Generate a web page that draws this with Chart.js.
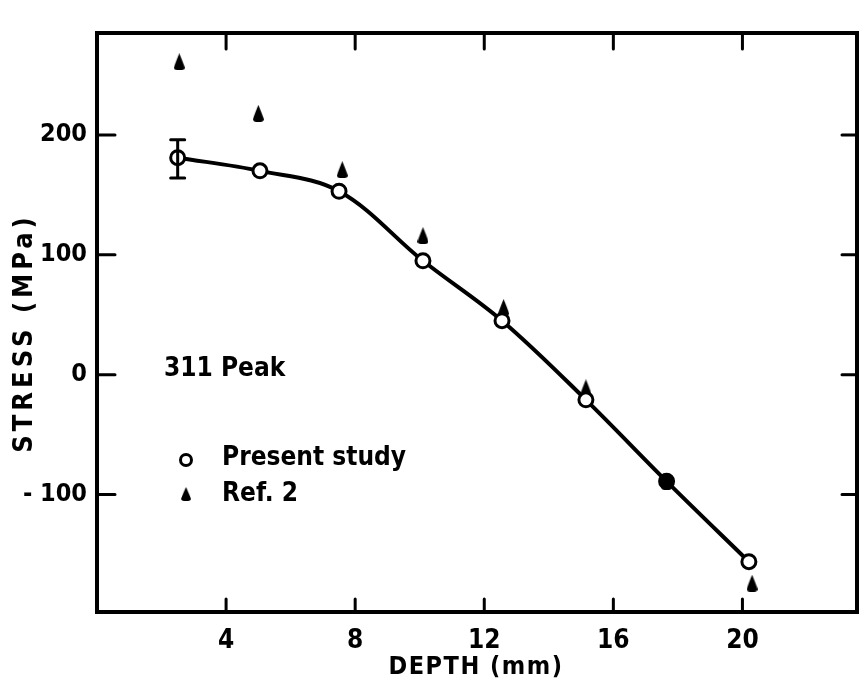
<!DOCTYPE html>
<html>
<head>
<meta charset="utf-8">
<script src="https://cdn.jsdelivr.net/npm/chart.js@4.4.1/dist/chart.umd.min.js"></script>
<style>
  html, body { margin: 0; padding: 0; background: #fff; }
  #wrap { width: 867px; height: 684px; }
</style>
</head>
<body>
<div id="wrap"><canvas id="stressChart"></canvas></div>
<script>
// data
const depthPresent = [2.5, 5.05, 7.5, 10.1, 12.55, 15.15, 17.65, 20.2];
const stressPresent = [181, 170, 153, 95, 45, -21, -89, -156];
const errUpper = [196, null, null, null, null, null, null, null];
const errLower = [164, null, null, null, null, null, null, null];
const depthRef = [2.55, 5.0, 7.6, 10.1, 12.6, 15.15, 17.65, 20.3];
const stressRef = [261, 218, 171, 116, 56, -11, -89, -174];
const xTicks = [4, 8, 12, 16, 20];
const yTicks = [-100, 0, 100, 200];

const FONT = "'DejaVu Sans Condensed', 'Liberation Sans Narrow', sans-serif";

// tall, slightly rounded triangle like the hand-drawn markers
function makeTriangle(w, h) {
    const c = document.createElement('canvas');
    c.width = w; c.height = h;
    const g = c.getContext('2d');
    g.fillStyle = '#000';
    g.beginPath();
    g.moveTo(w / 2, 0);
    g.quadraticCurveTo(w * 0.85, h * 0.55, w, h * 0.85);
    g.quadraticCurveTo(w, h, w / 2, h);
    g.quadraticCurveTo(0, h, 0, h * 0.85);
    g.quadraticCurveTo(w * 0.15, h * 0.55, w / 2, 0);
    g.fill();
    return c;
}
const triMarker = makeTriangle(11, 17);

// frame + inward ticks on all four sides, error bar, axis titles, text legend
const decorations = {
    id: 'decorations',
    afterDatasetsDraw(chart) {
        const { ctx, chartArea: a, scales: { x, y } } = chart;
        ctx.save();
        ctx.strokeStyle = '#000';
        ctx.fillStyle = '#000';
        ctx.lineCap = 'round';

        // error bar on the first point
        ctx.lineWidth = 3;
        depthPresent.forEach((d, i) => {
            if (errUpper[i] == null) return;
            const px = x.getPixelForValue(d);
            const y1 = y.getPixelForValue(errUpper[i]);
            const y2 = y.getPixelForValue(errLower[i]);
            ctx.beginPath();
            ctx.moveTo(px, y1); ctx.lineTo(px, y2);
            ctx.moveTo(px - 7, y1); ctx.lineTo(px + 7, y1);
            ctx.moveTo(px - 7, y2); ctx.lineTo(px + 7, y2);
            ctx.stroke();
        });

        // ticks
        xTicks.forEach(v => {
            const px = x.getPixelForValue(v);
            ctx.beginPath();
            ctx.moveTo(px, a.bottom); ctx.lineTo(px, a.bottom - 13);
            ctx.moveTo(px, a.top); ctx.lineTo(px, a.top + 16);
            ctx.stroke();
        });
        yTicks.forEach(v => {
            const py = y.getPixelForValue(v);
            ctx.beginPath();
            ctx.moveTo(a.left, py); ctx.lineTo(a.left + 18, py);
            ctx.moveTo(a.right, py); ctx.lineTo(a.right - 15, py);
            ctx.stroke();
        });

        // frame
        ctx.lineWidth = 4;
        ctx.lineCap = 'butt';
        ctx.strokeRect(a.left, a.top, a.right - a.left, a.bottom - a.top);

        // axis titles
        ctx.font = 'bold 25px ' + FONT;
        ctx.textAlign = 'center';
        ctx.textBaseline = 'middle';
        ctx.letterSpacing = '1.5px';
        ctx.fillText('DEPTH (mm)', 476, 667);
        ctx.save();
        ctx.translate(25, 333);
        ctx.rotate(-Math.PI / 2);
        ctx.font = 'bold 27px ' + FONT;
        ctx.letterSpacing = '4px';
        ctx.fillText('STRESS (MPa)', 0, 0);
        ctx.restore();
        ctx.letterSpacing = '0px';

        // annotation and legend
        ctx.font = 'bold 26px ' + FONT;
        ctx.textAlign = 'left';
        ctx.fillText('311 Peak', 164, 369);
        ctx.fillText('Present study', 222, 458);
        ctx.fillText('Ref. 2', 222, 494);

        ctx.lineWidth = 3;
        ctx.beginPath();
        ctx.arc(186, 460, 5.5, 0, Math.PI * 2);
        ctx.stroke();
        ctx.drawImage(triMarker, 181, 487, 10, 14);
        ctx.restore();
    }
};

const ctx = document.getElementById('stressChart').getContext('2d');
new Chart(ctx, {
    type: 'scatter',
    data: {
        datasets: [
            {
                label: 'Ref. 2',
                data: depthRef.map((d, i) => ({ x: d, y: stressRef[i] })),
                pointStyle: triMarker,
                pointRadius: 8,
                backgroundColor: '#000',
                borderColor: '#000',
                showLine: false,
                order: 2
            },
            {
                label: 'Present study',
                data: depthPresent.map((d, i) => ({ x: d, y: stressPresent[i] })),
                showLine: true,
                tension: 0.35,
                borderColor: '#000',
                borderWidth: 4,
                pointRadius: 7,
                pointBorderWidth: 3,
                pointBorderColor: '#000',
                pointBackgroundColor: c => c.dataIndex === 6 ? '#000' : '#fff',
                order: 1
            }
        ]
    },
    options: {
        responsive: true,
        maintainAspectRatio: false,
        animation: false,
        layout: { padding: { top: 33, right: 4, left: 0, bottom: 0 } },
        plugins: {
            legend: { display: false },
            tooltip: { enabled: false }
        },
        scales: {
            x: {
                type: 'linear',
                min: 0,
                max: 23.55,
                afterBuildTicks: s => { s.ticks = xTicks.map(v => ({ value: v })); },
                afterFit: s => { s.height = 72; },
                grid: { display: false, drawTicks: false },
                border: { display: false },
                ticks: {
                    padding: 14,
                    color: '#000',
                    font: { family: FONT, size: 26, weight: 'bold' }
                },
                title: { display: false }
            },
            y: {
                type: 'linear',
                min: -198,
                max: 285,
                afterBuildTicks: s => { s.ticks = yTicks.map(v => ({ value: v })); },
                afterFit: s => { s.width = 97; },
                grid: { display: false, drawTicks: false },
                border: { display: false },
                ticks: {
                    padding: 10,
                    color: '#000',
                    font: { family: FONT, size: 25, weight: 'bold' },
                    callback: v => v < 0 ? '- ' + Math.abs(v) : String(v)
                },
                title: { display: false }
            }
        }
    },
    plugins: [decorations]
});
</script>
</body>
</html>
